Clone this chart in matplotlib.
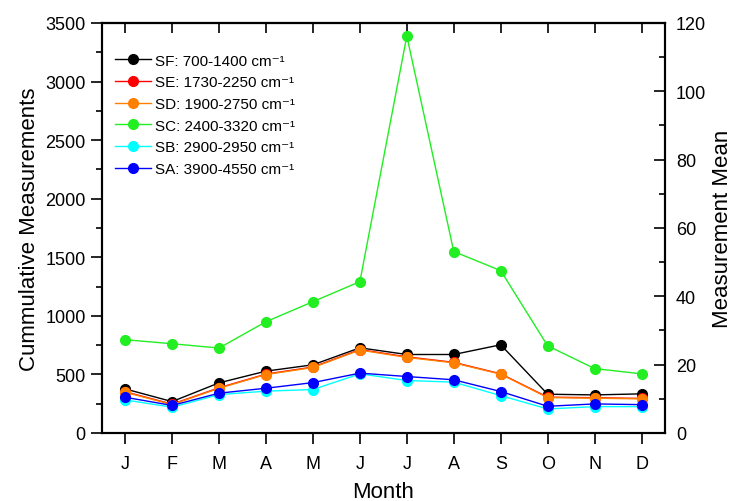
import matplotlib.pyplot as plt
from matplotlib.ticker import MultipleLocator

plt.rcParams['font.family'] = ['Liberation Sans', 'DejaVu Sans']

# Données
mois = ['J', 'F', 'M', 'A', 'M', 'J', 'J', 'A', 'S', 'O', 'N', 'D']
sf = [376, 268, 428, 528, 582, 727, 670, 670, 753, 331, 325, 334]
se = [352, 246, 386, 503, 563, 712, 650, 603, 505, 306, 301, 295]
sd = [348, 242, 382, 499, 559, 708, 645, 599, 502, 302, 297, 291]
sc = [796, 762, 725, 950, 1121, 1292, 3389, 1549, 1386, 744, 550, 505]
sb = [282, 220, 328, 357, 371, 505, 448, 434, 319, 205, 225, 225]
sa = [305, 235, 340, 382, 430, 511, 482, 454, 354, 228, 248, 242]

series = [
    ('SF: 700-1400 cm⁻¹', sf, 'black'),
    ('SE: 1730-2250 cm⁻¹', se, 'red'),
    ('SD: 1900-2750 cm⁻¹', sd, '#ff8000'),
    ('SC: 2400-3320 cm⁻¹', sc, '#22ee22'),
    ('SB: 2900-2950 cm⁻¹', sb, 'cyan'),
    ('SA: 3900-4550 cm⁻¹', sa, 'blue'),
]

fig = plt.figure(figsize=(7.38, 5.02), dpi=100)
ax = fig.add_axes([0.1378, 0.1355, 0.9011 - 0.1378, 0.9522 - 0.1355])

x = list(range(1, 13))
for nom, y, c in series:
    ax.plot(x, y, marker='o', color=c, markersize=7, linewidth=1, label=nom)

ax.set_xlim(0.5, 12.5)
ax.set_ylim(0, 3500)
ax.set_xticks(x)
ax.set_xticklabels(mois)
ax.yaxis.set_major_locator(MultipleLocator(500))
ax.yaxis.set_minor_locator(MultipleLocator(250))
ax.tick_params(axis='both', which='major', direction='out', length=8, width=1.2, labelsize=13)
ax.tick_params(axis='y', which='minor', direction='out', length=4, width=1.2)
ax.tick_params(axis='x', pad=8)
for s in ax.spines.values():
    s.set_linewidth(1.5)

# Ticks du haut (vers l'intérieur)
haut = ax.secondary_xaxis('top')
haut.set_xticks(x)
haut.tick_params(direction='in', length=7, width=1.2, labeltop=False)
haut.spines['top'].set_linewidth(1.5)

ax.set_xlabel('Month', fontsize=16, labelpad=6)
ax.set_ylabel('Cummulative Measurements', fontsize=16)

# Axe de droite
ax2 = ax.twinx()
ax2.set_ylim(0, 120)
ax2.yaxis.set_major_locator(MultipleLocator(20))
ax2.yaxis.set_minor_locator(MultipleLocator(10))
ax2.tick_params(axis='y', which='major', direction='in', length=8, width=1.2, labelsize=13, pad=8)
ax2.tick_params(axis='y', which='minor', direction='in', length=4, width=1.2)
ax2.set_ylabel('Measurement Mean', fontsize=16)
for s in ax2.spines.values():
    s.set_linewidth(1.5)

ax.legend(loc='upper left', bbox_to_anchor=(0.023, 0.925), frameon=False, fontsize=11,
          handlelength=2.4, borderaxespad=0, borderpad=0, labelspacing=0.5,
          handletextpad=0.25, markerscale=1.0)

fig.savefig('out.png', dpi=100)
